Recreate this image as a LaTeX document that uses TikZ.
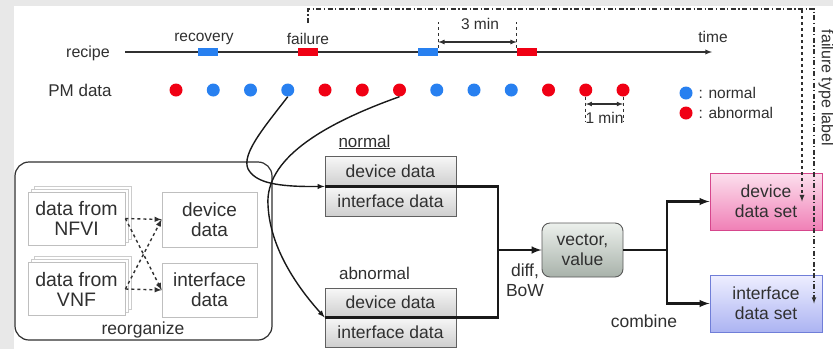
\documentclass[tikz,border=0pt]{standalone}
\usepackage{fontspec}
\setmainfont{Liberation Sans}
\usetikzlibrary{shadows}
\definecolor{paper}{RGB}{232,232,232}
\definecolor{inkgray}{RGB}{48,48,48}
\definecolor{dotblue}{RGB}{40,128,240}
\definecolor{dotred}{RGB}{240,0,20}
\definecolor{pinktop}{RGB}{252,224,238}
\definecolor{pinkbot}{RGB}{240,128,182}
\definecolor{pinkline}{RGB}{214,70,140}
\definecolor{lavtop}{RGB}{238,238,255}
\definecolor{lavbot}{RGB}{172,180,242}
\definecolor{lavline}{RGB}{112,126,216}
\definecolor{vectop}{RGB}{236,240,236}
\definecolor{vecbot}{RGB}{168,178,170}
\begin{document}
\begin{tikzpicture}[x=1pt,y=-1pt,>=latex,
  lbl/.style={font=\fontsize{15.5}{17}\selectfont,text=inkgray},
  boxtxt/.style={font=\fontsize{17.5}{20}\selectfont,text=inkgray,align=center},
  evt/.style={rectangle,inner sep=0pt,minimum width=20pt,minimum height=8pt,fill=#1},
  pmdot/.style={circle,inner sep=0pt,minimum size=13pt,fill=#1},
  srcbox/.style={rectangle,draw=gray!50,line width=0.8pt,fill=white,inner sep=0pt,
    minimum width=97pt,minimum height=53pt,align=center,text=inkgray,
    font=\fontsize{19.5}{20}\selectfont,
    copy shadow={shadow xshift=6pt,shadow yshift=6pt,draw=gray!40,fill=white},
    copy shadow={shadow xshift=3pt,shadow yshift=3pt,draw=gray!40,fill=white}},
  outbox/.style={rectangle,draw=gray!50,line width=0.8pt,fill=white,inner sep=0pt,
    minimum width=95pt,minimum height=55pt,boxtxt,font=\fontsize{19}{20}\selectfont},
  cellbox/.style={rectangle,draw=gray!75!black,line width=0.8pt,top color=gray!6,
    bottom color=gray!38,inner sep=0pt,minimum width=131pt,minimum height=30pt,boxtxt},
  setbox/.style={rectangle,line width=1pt,inner sep=0pt,minimum width=112pt,
    minimum height=57pt,boxtxt},
  flow/.style={line width=2.4pt,black!90},
  wire/.style={line width=1.4pt,black!90},
  gap/.style={dashed,line width=0.9pt,inkgray},
  labelline/.style={line width=1.1pt,inkgray,dash pattern=on 5pt off 2.5pt on 1.2pt off 2.5pt},
  reorgarrow/.style={dashed,line width=1.4pt,inkgray}]
\useasboundingbox (0,0) rectangle (833,349);
\fill[paper] (0,0) rectangle (833,349);
\fill[white] (14,6) rectangle (833,349);

\node[lbl,font=\fontsize{16}{18}\selectfont] (recipe) at (88,53) {recipe};
\coordinate (tstart) at (125,52);
\coordinate (tend) at (712,52);
\draw[->,line width=1.3pt,inkgray] (tstart) -- (tend);
\node[lbl] (time) at (713,37) {time};
\node[evt=dotblue] (rec1) at (208,52) {};
\node[evt=dotred] (fail1) at (308,52) {};
\node[evt=dotblue] (rec2) at (428,52) {};
\node[evt=dotred] (fail2) at (527,52) {};
\node[lbl] (recovery) at (204,39) {recovery};
\node[lbl] (failure) at (308,39) {failure};

\draw[gap] (rec2.north east) -- (rec2.north east |- 0,22);
\draw[gap] (fail2.north west) -- (fail2.north west |- 0,22);
\draw[<->,line width=1.2pt,inkgray] (rec2.east |- 0,42) -- (fail2.west |- 0,42);
\node[lbl] (threemin) at (480,24) {3 min};

\node[lbl,font=\fontsize{17}{19}\selectfont] (pmdata) at (80,90) {PM data};
\foreach \c [count=\i] in {dotred,dotblue,dotblue,dotblue,dotred,dotred,dotred,
    dotblue,dotblue,dotblue,dotred,dotred,dotred}
  \node[pmdot=\c] (pm\i) at ({176+37.25*(\i-1)},90) {};

\draw[gap] (pm12.south) -- (pm12.south |- 0,121);
\draw[gap] (pm13.south) -- (pm13.south |- 0,121);
\draw[<->,line width=1.1pt,inkgray] (pm12 |- 0,104) -- (pm13 |- 0,104);
\node[lbl] (onemin) at (604.5,118) {1 min};

\node[pmdot=dotblue] (keyn) at (686,93) {};
\node[lbl,anchor=west] (keyntxt) at (695,93) {: normal};
\node[pmdot=dotred] (keya) at (686,113) {};
\node[lbl,anchor=west] (keyatxt) at (695,113) {: abnormal};

\node[draw=inkgray,line width=1.2pt,rounded corners=14pt,minimum width=257pt,
  minimum height=178pt] (reorg) at (143.5,251) {};
\node[lbl,font=\fontsize{17.5}{19}\selectfont] (reorgtxt) at (143,330) {reorganize};
\node[srcbox] (nfvi) at (76.5,218.5) {data from\\NFVI};
\node[srcbox] (vnf) at (76.5,289) {data from\\VNF};
\node[outbox] (rdev) at (209.5,219.5) {device\\data};
\node[outbox,minimum height=54pt] (rint) at (209.5,290) {interface\\data};
\draw[reorgarrow,->] (nfvi.east) -- (rdev.west);
\draw[reorgarrow,->] (nfvi.east) -- (rint.west);
\draw[reorgarrow,->] (vnf.east) -- (rint.west);
\draw[reorgarrow,->] (vnf.east) -- (rdev.west);

\node[lbl,font=\fontsize{17}{19}\selectfont] (normal) at (364.5,142) {\underline{normal}};
\node[cellbox] (ndev) at (390.5,171) {device data};
\node[cellbox] (nint) at (390.5,201) {interface data};
\node[lbl,font=\fontsize{17}{19}\selectfont] (abnormal) at (374.5,273) {abnormal};
\node[cellbox,minimum height=29pt] (adev) at (390.5,302.5) {device data};
\node[cellbox] (aint) at (390.5,332) {interface data};

\draw[wire,->] (pm4.south) .. controls (262,130) and (238,158) .. (250,172)
  .. controls (258,182) and (275,187) .. (ndev.south west);
\draw[wire,->] (pm7.south) .. controls (320,125) and (265,160) .. (268,205)
  .. controls (270,250) and (300,290) .. (adev.south west);

\node[rectangle,rounded corners=8pt,draw=gray!70!black,line width=0.9pt,top color=vectop,
  bottom color=vecbot,inner sep=0pt,minimum width=81pt,minimum height=54pt,boxtxt]
  (vec) at (582.5,250) {vector,\\value};
\coordinate (merge) at (498,250);
\draw[flow] (ndev.south west) -- (ndev.south east) -| (merge);
\draw[flow] (adev.south west) -- (adev.south east) -| (merge);
\draw[flow,->] (merge) -- (vec);
\node[boxtxt] (diffbow) at (525,280) {diff,\\BoW};

\node[setbox,draw=pinkline,top color=pinktop,bottom color=pinkbot] (dset) at (766,201.5) {device\\data set};
\node[setbox,draw=lavline,top color=lavtop,bottom color=lavbot] (iset) at (766,303.5) {interface\\data set};
\coordinate (split) at (667,250);
\draw[flow] (vec) -- (split);
\draw[flow,->] (split) |- (dset);
\draw[flow,->] (split) |- (iset);
\node[boxtxt] (combine) at (644,321) {combine};

\coordinate (lbltop) at (308,23);
\draw[labelline,->] (lbltop) -- (308,9) -- (814,9) -- (iset.east -| 814,0);
\draw[gap,line width=1.3pt,->] (802,10) -- (dset.east -| 802,0);
\node[lbl,font=\fontsize{16}{18}\selectfont,rotate=-90] (ftlabel) at (826,88) {failure type label};
\end{tikzpicture}
\end{document}
